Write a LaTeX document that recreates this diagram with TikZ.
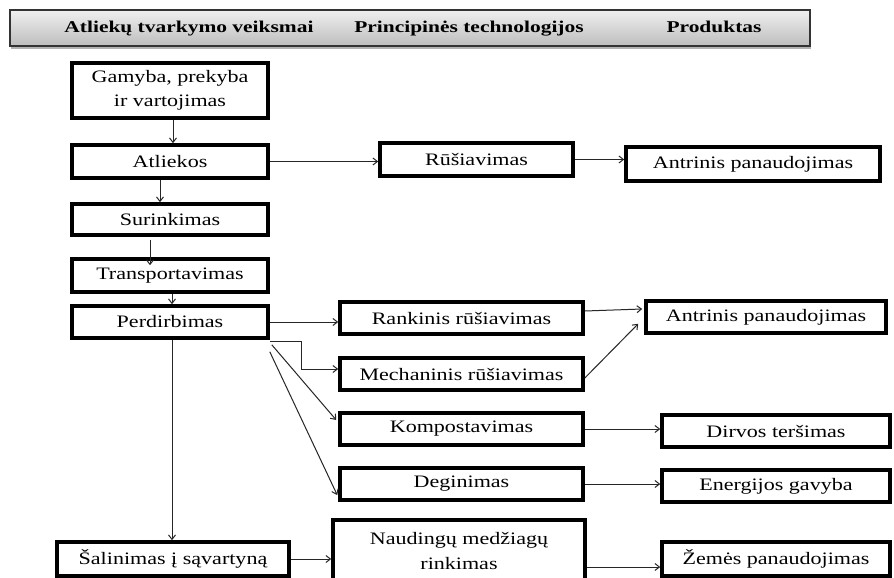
\documentclass[tikz,border=0pt]{standalone}
\usepackage{fontspec}
\setmainfont{Liberation Serif}
\newfontfamily\boxfont[FakeStretch=1.26]{Liberation Serif}
\newfontfamily\headfont[FakeStretch=1.3]{Liberation Serif}
\usetikzlibrary{arrows.meta,calc,shadows}

\begin{document}
\begin{tikzpicture}[x=1pt,y=1pt,
  stepbox/.style={draw=black, line width=3.6pt, fill=white, inner sep=0pt,
    align=center, font=\boxfont\fontsize{17.5}{24.5}\selectfont, text=black},
  link/.style={draw=black!85, line width=1pt,
    -{Straight Barb[length=4.5pt,width=7pt]}},
  headtext/.style={font=\headfont\bfseries\fontsize{16.5}{18}\selectfont,
    anchor=base, inner sep=0pt}]
\useasboundingbox (0,0) rectangle (894,-578);
\clip (0,0) rectangle (894,-578);
\fill[white] (0,0) rectangle (894,-578);

% column header bar
\node[draw=black!80, line width=1.8pt, top color=black!6, bottom color=black!26,
  minimum width=800, minimum height=36, inner sep=0pt,
  drop shadow={shadow xshift=1pt, shadow yshift=-3pt, opacity=0.5, fill=black!60}]
  (head) at (410,-28) {};
\node[headtext] (h1) at (189,-32.7) {Atliekų tvarkymo veiksmai};
\node[headtext] (h2) at (469,-32.7) {Principinės technologijos};
\node[headtext] (h3) at (714,-32.7) {Produktas};

% left column: waste handling steps
\node[stepbox, minimum width=196, minimum height=55] (gam) at (170,-90.5) {Gamyba, prekyba\\ir vartojimas};
\node[stepbox, minimum width=196, minimum height=33] (atl) at (170,-161.5) {Atliekos};
\node[stepbox, minimum width=196, minimum height=31] (sur) at (170,-219.5) {Surinkimas};
\node[stepbox, minimum width=196, minimum height=33] (tra) at (170,-275.5) {Transportavimas};
\node[stepbox, minimum width=196, minimum height=32] (per) at (170,-322) {Perdirbimas};
\node[stepbox, minimum width=232, minimum height=34] (sal) at (173,-559) {Šalinimas į sąvartyną};

% middle column: technologies
\node[stepbox, minimum width=193, minimum height=33] (rus) at (476.5,-159.5) {Rūšiavimas};
\node[stepbox, minimum width=243, minimum height=32] (ran) at (461.5,-318) {Rankinis rūšiavimas};
\node[stepbox, minimum width=243, minimum height=32] (mec) at (461.5,-374) {Mechaninis rūšiavimas};
\node[stepbox, minimum width=243, minimum height=32] (kom) at (461.5,-429) {Kompostavimas};
\node[stepbox, minimum width=243, minimum height=32] (deg) at (461.5,-484) {Deginimas};
\node[stepbox, minimum width=252, minimum height=62] (nau) at (459,-551) {Naudingų medžiagų\\rinkimas};

% right column: products
\node[stepbox, minimum width=254, minimum height=34] (ant1) at (753,-164) {Antrinis panaudojimas};
\node[stepbox, minimum width=240, minimum height=32] (ant2) at (766,-317) {Antrinis panaudojimas};
\node[stepbox, minimum width=228, minimum height=32] (dir) at (776,-431) {Dirvos teršimas};
\node[stepbox, minimum width=228, minimum height=32] (ene) at (776,-486) {Energijos gavyba};
\node[stepbox, minimum width=228, minimum height=34] (zem) at (776,-559) {Žemės panaudojimas};

% vertical flow of the left column
\draw[link] ($(gam.south)+(3,0)$) -- ($(atl.north)+(3,0)$);
\draw[link] ($(atl.south)+(-10,0)$) -- ($(sur.north)+(-10,0)$);
\coordinate (s1) at ($(sur.south)+(-20,-3)$);
\coordinate (s2) at ($(tra.north)+(-20,-8)$);
\draw[link] (s1) -- (s2);
\draw[link] ($(tra.south)+(2,0)$) -- ($(per.north)+(2,0)$);
\coordinate (p0) at ($(per.south)+(2,0)$);
\draw[link] (p0) -- (p0 |- sal.north);

% towards technologies
\draw[link] (atl.east) -- (atl.east -| rus.west);
\draw[link] (per.east) -- (per.east -| ran.west);
\coordinate (m1) at ($(per.south east)+(0,-2)$);
\coordinate (m2) at ($(mec.west)+(0,5)$);
\draw[link] (m1) -- ++(32,0) |- (m2);
\draw[link] ($(per.south east)+(2,-5)$) -- ($(kom.west)+(-2,9)$);
\draw[link] ($(per.south east)+(0,-12)$) -- ($(deg.west)+(-1,-11)$);
\draw[link] (sal.east) -- (sal.east -| nau.west);

% towards products
\draw[link] (rus.east) -- (rus.east -| ant1.west);
\draw[link] ($(ran.east)+(0,7)$) -- ($(ant2.west)+(-2,8)$);
\draw[link] ($(mec.east)+(0,-4)$) -- ($(ant2.south west)+(-6,11)$);
\draw[link] (kom.east) -- (kom.east -| dir.west);
\draw[link] (deg.east) -- (deg.east -| ene.west);
\coordinate (z0) at ($(zem.west)+(0,-8)$);
\draw[link] (z0 -| nau.east) -- (z0);
\end{tikzpicture}
\end{document}
